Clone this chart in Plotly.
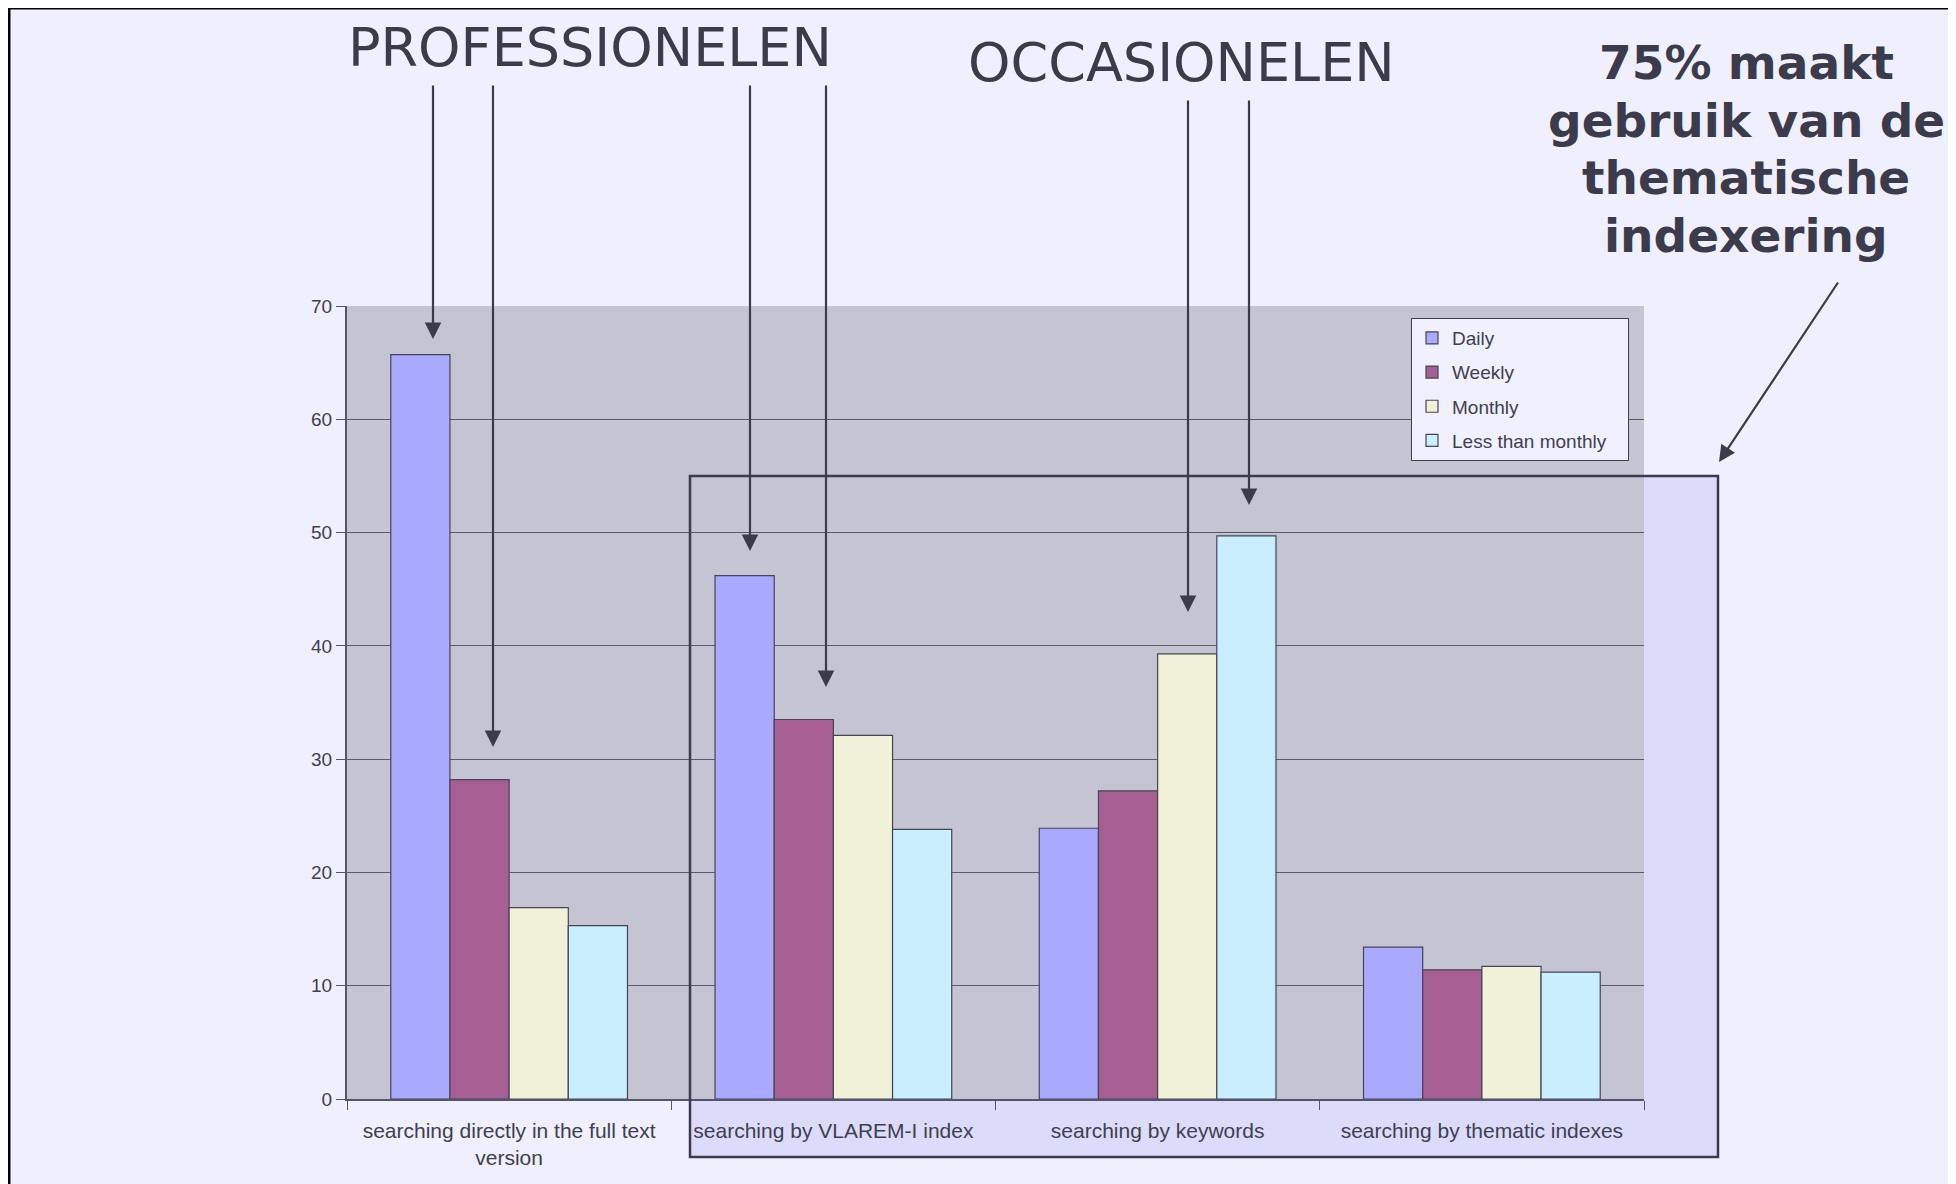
import plotly.graph_objects as go

# ---------------- data ----------------
categories = [
    "searching directly in the full text<br>version",
    "searching by VLAREM-I index",
    "searching by keywords",
    "searching by thematic indexes",
]
series_names = ["Daily", "Weekly", "Monthly", "Less than monthly"]
daily = [65.7, 46.2, 23.9, 13.4]
weekly = [28.2, 33.5, 27.2, 11.4]
monthly = [16.9, 32.1, 39.3, 11.7]
less_than_monthly = [15.3, 23.8, 49.7, 11.2]
y_tick_values = [0, 10, 20, 30, 40, 50, 60, 70]

title_left = "PROFESSIONELEN"
title_mid = "OCCASIONELEN"
callout_lines = ["75% maakt", "gebruik van de", "thematische", "indexering"]

# ---------------- style ----------------
W, H = 1956, 1184
OFF = 8  # page body margin
L, R, T, B = 347, 1644, 306, 1099  # plot area in page pixels
colors = ["#A9A9FF", "#A65E93", "#F1F1D9", "#C9EEFD"]
dark = "#3B3B4B"
text_col = "#404050"
plot_gray = "#C4C4D3"
bg_lav = "#EFEFFE"
box_fill = "#DCDCFA"


def px(x):
    return (x - L) / (R - L)


def py(y):
    return (B - y) / (B - T)


fig = go.Figure()
for name, vals, col in zip(series_names, [daily, weekly, monthly, less_than_monthly], colors):
    label = name + ("\u00a0\u00a0\u00a0" if name == "Less than monthly" else "")
    fig.add_trace(go.Bar(
        x=categories, y=vals, name=label, legendgroup=name,
        marker=dict(color=col, line=dict(color="#454555", width=1.2)),
    ))

shapes = [
    # outer slide frame
    dict(type="rect", xref="paper", yref="paper", layer="below",
         x0=px(9), x1=px(W + 40), y0=py(8), y1=py(H + 40),
         fillcolor=bg_lav, line=dict(color="#000000", width=3)),
    # highlighted box fill
    dict(type="rect", xref="paper", yref="paper", layer="below",
         x0=px(690), x1=px(1718), y0=py(1157), y1=py(476),
         fillcolor=box_fill, line=dict(width=0)),
    # plot area gray
    dict(type="rect", xref="paper", yref="paper", layer="below",
         x0=0, x1=1, y0=0, y1=1, fillcolor=plot_gray, line=dict(width=0)),
    # highlighted box outline
    dict(type="rect", xref="paper", yref="paper", layer="above",
         x0=px(690), x1=px(1718), y0=py(1157), y1=py(476),
         fillcolor="rgba(0,0,0,0)", line=dict(color=dark, width=2.5)),
]

annotations = [
    dict(text=title_left, xref="paper", yref="paper", x=px(590), y=py(48),
         xanchor="center", yanchor="middle", showarrow=False,
         font=dict(family="DejaVu Sans", size=54, color=dark)),
    dict(text=title_mid, xref="paper", yref="paper", x=px(1181), y=py(62),
         xanchor="center", yanchor="middle", showarrow=False,
         font=dict(family="DejaVu Sans", size=54, color=dark)),
]
for line, yc in zip(callout_lines, [62, 120, 178, 236]):
    annotations.append(dict(
        text="<b>" + line + "</b>", xref="paper", yref="paper", x=px(1746), y=py(yc),
        xanchor="center", yanchor="middle", showarrow=False,
        font=dict(family="DejaVu Sans", size=47, color=dark)))

# arrows: (tail_x, tail_y, tip_x, tip_y) in page pixels
arrows = [
    (433, 84, 433, 339),
    (493, 84, 493, 747),
    (750, 84, 750, 551),
    (826, 84, 826, 687),
    (1188, 99, 1188, 612),
    (1249, 99, 1249, 505),
    (1839, 281, 1719, 462),
]
for tx, ty, hx, hy in arrows:
    annotations.append(dict(
        xref="paper", yref="paper", x=px(hx), y=py(hy),
        ax=tx - hx, ay=ty - hy, axref="pixel", ayref="pixel",
        text="", showarrow=True, arrowhead=2, arrowsize=1.5, arrowwidth=2.2,
        arrowcolor=dark, standoff=0,
    ))

fig.update_layout(
    width=W, height=H,
    margin=dict(l=L - OFF, r=W - (R - OFF), t=T - OFF, b=H - (B - OFF), pad=0),
    paper_bgcolor="#FFFFFF",
    plot_bgcolor="rgba(0,0,0,0)",
    barmode="group", bargap=0.27, bargroupgap=0,
    font=dict(family="Liberation Sans, Arial", size=19, color=text_col),
    shapes=shapes, annotations=annotations,
    showlegend=True,
    legend=dict(
        x=px(1411), y=py(318), xanchor="left", yanchor="top",
        bgcolor="#F0F0FE", bordercolor="#404050", borderwidth=1,
        font=dict(family="Liberation Sans, Arial", size=19, color=text_col),
        traceorder="grouped", tracegroupgap=6.5,
    ),
    xaxis=dict(
        type="category", tickson="boundaries", ticks="outside", ticklen=9,
        tickcolor="#55556A", tickwidth=1,
        showline=True, linecolor="#55556A", linewidth=1.5,
        showgrid=False, tickfont=dict(size=21, color=text_col),
        ticklabelstandoff=12,
    ),
    yaxis=dict(
        range=[0, 70], tickvals=y_tick_values, ticks="outside", ticklen=9,
        tickcolor="#55556A", showline=True, linecolor="#55556A", linewidth=2,
        showgrid=True, gridcolor="#5A5A6C", gridwidth=1.3,
        zeroline=False, tickfont=dict(size=19, color=text_col),
    ),
)

fig.write_html("out.html", config={"displayModeBar": False})
